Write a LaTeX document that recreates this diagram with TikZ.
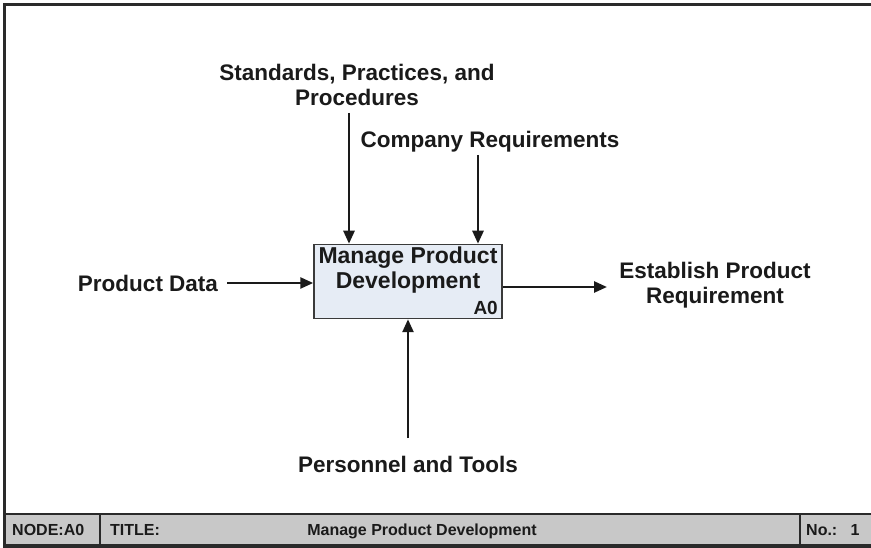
\documentclass[tikz,border=0pt]{standalone}
\usepackage{fontspec}
\setmainfont{Liberation Sans}
\usetikzlibrary{arrows.meta}
\definecolor{ink}{HTML}{1A1A1A}
\definecolor{framec}{HTML}{2A2A2A}
\definecolor{boxfill}{HTML}{E6ECF5}
\definecolor{boxedge}{HTML}{3A3A3A}
\definecolor{barfill}{HTML}{C8C8C8}
\tikzset{
 lbl/.style={font=\fontsize{22.5}{25}\selectfont\bfseries, text=ink, align=center, inner sep=0pt},
 arr/.style={line width=2.5pt, draw=ink, -{Triangle[length=13pt,width=11pt]}},
 barlbl/.style={font=\fontsize{16}{18}\selectfont\bfseries, text=ink, inner sep=0pt},
 frameline/.style={draw=framec, line width=3pt},
}
\begin{document}
\begin{tikzpicture}[x=1pt,y=-1pt]
\useasboundingbox (0,0) rectangle (871,548);
\clip (0,0) rectangle (871,548);
% frame
\fill[barfill] (4.5,514) rectangle (873,545);
\draw[frameline] (4.5,548) -- (4.5,4.5) -- (873,4.5);
\draw[draw=framec, line width=4pt] (3,545.5) -- (873,545.5);
\draw[draw=framec, line width=1.5pt] (4.5,514) -- (873,514);
\draw[draw=framec, line width=1.2pt] (100,514) -- (100,544);
\draw[draw=framec, line width=1.2pt] (800,514) -- (800,544);
\node[barlbl, anchor=base west] (nodeid) at (12,535) {NODE:A0};
\node[barlbl, anchor=base west] (titlelbl) at (110,535) {TITLE:};
\node[barlbl, anchor=base] (titletxt) at (422,535) {Manage Product Development};
\node[barlbl, anchor=base west] (nolbl) at (806,535) {No.:};
\node[barlbl, anchor=base] (noval) at (855,535) {1};
% activity box
\node[draw=boxedge, line width=1.5pt, fill=boxfill, minimum width=188pt, minimum height=74pt, inner sep=0pt] (box) at (408,281.5) {};
\node[lbl, font=\fontsize{23}{24.5}\selectfont\bfseries] (boxt) at (408,270) {Manage Product\\Development};
\node[font=\fontsize{19}{21}\selectfont\bfseries, text=ink, inner sep=0pt, anchor=south east] (boxid) at (498,315) {A0};
% labels
\node[lbl] (std) at (357,85) {Standards, Practices, and\\Procedures};
\node[lbl] (comp) at (490,142) {Company Requirements};
\node[lbl] (pd) at (148,283) {Product Data};
\node[lbl] (out) at (715,285) {Establish Product\\Requirement};
\node[lbl] (pers) at (408,464) {Personnel and Tools};
% connectors
\coordinate (s1) at (349,113);
\coordinate (c1) at (478,155);
\coordinate (p1) at (408,438);
\coordinate (d1) at (227,283);
\coordinate (o1) at (607,287);
\draw[arr] (s1) -- (s1 |- box.north);
\draw[arr] (c1) -- (c1 |- box.north);
\draw[arr] (p1) -- (p1 |- box.south);
\draw[arr] (d1) -- (d1 -| box.west);
\draw[arr] (o1 -| box.east) -- (o1);
\end{tikzpicture}
\end{document}
